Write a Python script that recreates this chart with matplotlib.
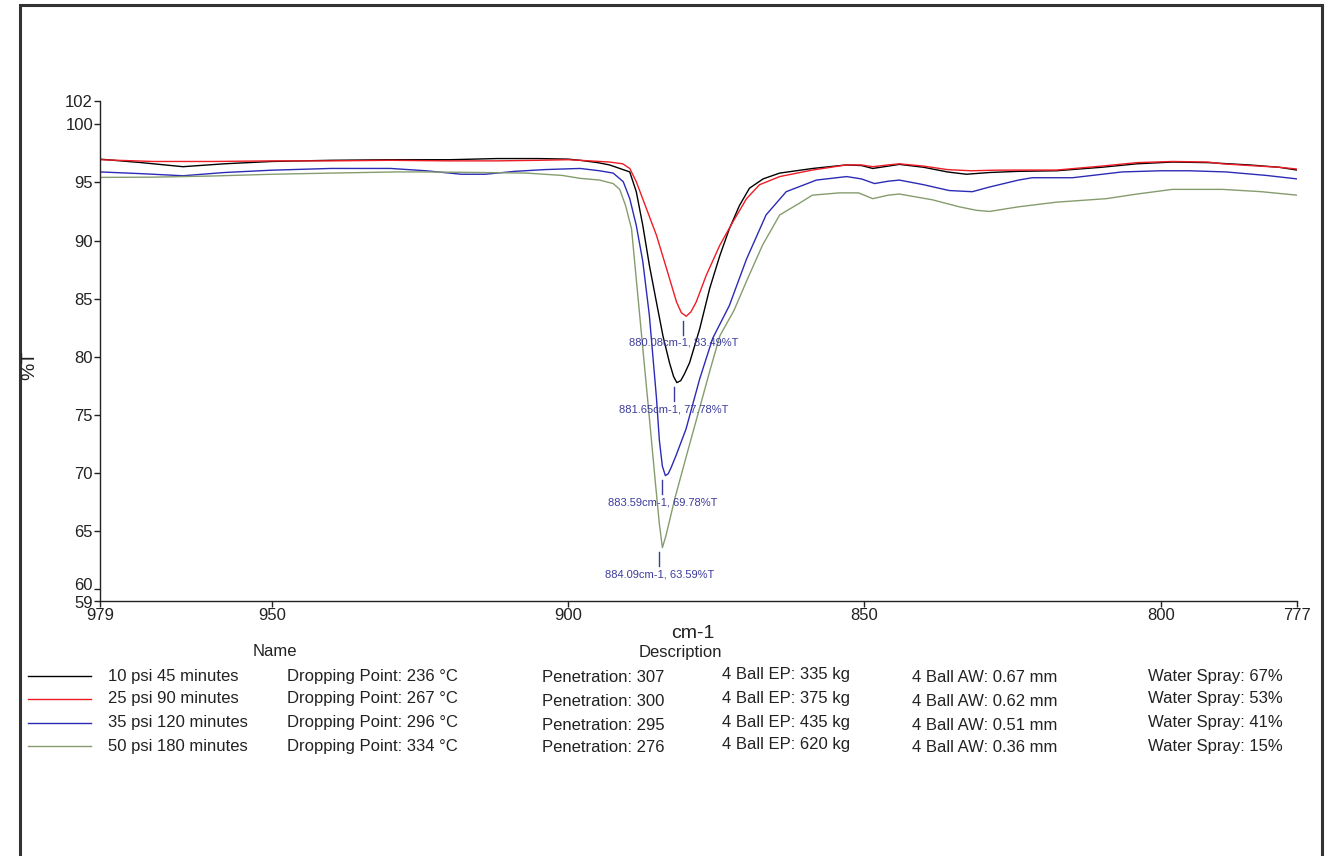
import matplotlib
matplotlib.use("Agg")
import matplotlib.pyplot as plt
from matplotlib.lines import Line2D
from matplotlib.patches import Rectangle
from matplotlib.transforms import ScaledTranslation

plt.rcParams['font.family'] = ['Liberation Sans', 'DejaVu Sans']

# ---------------- data ----------------
series_names = ["10 psi 45 minutes", "25 psi 90 minutes", "35 psi 120 minutes", "50 psi 180 minutes"]
series_colors = ["#000000", "#ee1c24", "#2b2bb5", "#869c6e"]

wn_black = [979, 972, 965, 958, 950, 940, 930, 920, 912, 905, 900, 898, 895, 893, 891.3, 889.6, 888.5, 887.4,
            886.3, 885.1, 884.0, 882.9, 882.2, 881.65, 881.0, 880.4, 879.5, 877.8, 876.1, 874.4, 872.8, 871.1,
            869.4, 867.1, 864.3, 858.7, 853.1, 850.5, 848.6, 846, 844.1, 840, 836, 832.8, 828.9, 824, 817.6,
            810, 804, 798, 792, 785, 780, 777]
t_black = [97.0, 96.7, 96.35, 96.6, 96.8, 96.9, 96.95, 96.95, 97.05, 97.05, 97.0, 96.9, 96.7, 96.5, 96.2, 95.9,
           94.2, 91.3, 87.9, 84.7, 81.8, 79.5, 78.3, 77.78, 77.95, 78.5, 79.5, 82.4, 85.9, 88.7, 91.0, 93.0,
           94.5, 95.3, 95.8, 96.2, 96.5, 96.45, 96.2, 96.4, 96.55, 96.3, 95.9, 95.7, 95.85, 95.95, 96.0,
           96.3, 96.6, 96.75, 96.7, 96.5, 96.3, 96.06]

wn_red = [979, 970, 960, 950, 940, 930, 920, 912, 905, 900, 898, 893, 890.8, 889.6, 888.5, 886.8, 885.1, 883.4,
          881.7, 880.9, 880.08, 879.3, 878.4, 876.7, 874.4, 872.2, 869.9, 867.7, 864.3, 858.8, 853.1, 850.5,
          848.6, 846, 844.1, 840, 836, 832, 828, 824, 817.6, 810, 804, 798, 792, 789.6, 785, 780, 777]
t_red = [96.95, 96.8, 96.8, 96.85, 96.85, 96.9, 96.85, 96.85, 96.9, 96.95, 96.9, 96.75, 96.6, 96.2, 95.06, 92.76,
         90.46, 87.6, 84.7, 83.8, 83.49, 83.85, 84.7, 87.0, 89.6, 91.6, 93.6, 94.8, 95.5, 96.06, 96.5, 96.5,
         96.35, 96.5, 96.6, 96.4, 96.1, 96.0, 96.05, 96.06, 96.06, 96.4, 96.7, 96.8, 96.75, 96.6, 96.45,
         96.3, 96.15]

wn_blue = [979, 972, 965, 958, 950, 940, 930, 924, 918, 914, 909, 904, 901, 898, 894.7, 892.4, 890.7, 889.6,
           888.5, 887.4, 886.3, 885.1, 884.6, 884.1, 883.59, 883.1, 882.6, 881.8, 880.1, 877.8, 875.6, 872.8,
           869.9, 866.6, 863.2, 858.1, 853, 850.5, 848.3, 846, 844.1, 840, 835.7, 831.8, 828.9, 824, 821.7,
           814.9, 806.5, 800, 795.2, 789, 782.2, 777]
t_blue = [95.9, 95.75, 95.57, 95.85, 96.05, 96.2, 96.2, 96.0, 95.7, 95.7, 95.95, 96.1, 96.15, 96.2, 96.0, 95.8,
          95.06, 93.6, 91.3, 88.2, 83.6, 76.5, 72.8, 70.6, 69.78, 69.95, 70.5, 71.5, 73.8, 78.1, 81.6, 84.4,
          88.4, 92.2, 94.2, 95.2, 95.5, 95.3, 94.9, 95.1, 95.2, 94.8, 94.3, 94.2, 94.6, 95.2, 95.4,
          95.4, 95.9, 96.0, 96.0, 95.9, 95.6, 95.3]

wn_green = [979, 970, 960, 950, 940, 929, 924, 915, 907, 901, 898, 894.7, 892.4, 891.3, 890.3, 889.3, 888.3,
            887.3, 886.3, 885.3, 884.6, 884.09, 883.5, 882, 880, 878, 876, 874.4, 872, 869.9, 867.2, 864.3,
            861, 858.8, 854.2, 851, 848.6, 846, 844.1, 838.5, 834, 831.1, 828.9, 824, 817.6, 809.2, 804, 798,
            789.6, 783, 777]
t_green = [95.43, 95.45, 95.55, 95.7, 95.8, 95.9, 95.9, 95.85, 95.8, 95.6, 95.35, 95.2, 94.9, 94.4, 93.0, 91.0,
           85.6, 80.2, 74.8, 69.3, 65.6, 63.59, 64.6, 67.8, 71.55, 75.25, 78.95, 81.8, 84.0, 86.5, 89.6, 92.2,
           93.2, 93.9, 94.1, 94.1, 93.6, 93.9, 94.0, 93.5, 92.9, 92.6, 92.5, 92.9, 93.3, 93.6, 94.0, 94.4,
           94.4, 94.2, 93.9]

peak_wn = [880.08, 881.65, 883.59, 884.09]
peak_t = [83.49, 77.78, 69.78, 63.59]
peak_labels = ["880.08cm-1, 83.49%T", "881.65cm-1, 77.78%T", "883.59cm-1, 69.78%T", "884.09cm-1, 63.59%T"]

y_ticks = [59, 60, 65, 70, 75, 80, 85, 90, 95, 100, 102]
x_ticks = [979, 950, 900, 850, 800, 777]

dropping = ["Dropping Point: 236 °C", "Dropping Point: 267 °C", "Dropping Point: 296 °C", "Dropping Point: 334 °C"]
penetration = ["Penetration: 307", "Penetration: 300", "Penetration: 295", "Penetration: 276"]
ball_ep = ["4 Ball EP: 335 kg", "4 Ball EP: 375 kg", "4 Ball EP: 435 kg", "4 Ball EP: 620 kg"]
ball_aw = ["4 Ball AW: 0.67 mm", "4 Ball AW: 0.62 mm", "4 Ball AW: 0.51 mm", "4 Ball AW: 0.36 mm"]
water = ["Water Spray: 67%", "Water Spray: 53%", "Water Spray: 41%", "Water Spray: 15%"]

# ---------------- figure ----------------
W, H = 1327, 856
fig = plt.figure(figsize=(W / 100, H / 100), dpi=100)
ax = fig.add_axes([100 / W, 1 - 601 / H, 1197 / W, 500 / H])

all_wn = [wn_black, wn_red, wn_blue, wn_green]
all_t = [t_black, t_red, t_blue, t_green]
for xs, ys, c in zip(all_wn, all_t, series_colors):
    ax.plot(xs, ys, color=c, lw=1.0, solid_joinstyle='round')

ann_color = "#3c3c9c"
for w, t, lab in zip(peak_wn, peak_t, peak_labels):
    ax.plot([w + 0.5, w + 0.5], [t - 0.4, t - 1.6], color=ann_color, lw=1.0)
    ax.text(w + 0.5, t - 2.3, lab, color=ann_color, fontsize=8, ha='center', va='center')

ax.set_xlim(979, 777)
ax.set_ylim(59, 102)
ax.set_xticks(x_ticks)
ax.set_yticks(y_ticks)
ax.tick_params(axis='both', labelsize=12, length=4, width=1, pad=1, colors='#222222')
for s in ['top', 'right']:
    ax.spines[s].set_visible(False)
for s in ['left', 'bottom']:
    ax.spines[s].set_linewidth(1.0)
    ax.spines[s].set_color('#222222')

# nudge the "60" label up a little so it does not collide with "59"
fig.canvas.draw()
for lbl, val in zip(ax.get_yticklabels(), y_ticks):
    if val == 60:
        lbl.set_transform(lbl.get_transform() + ScaledTranslation(0, 5 / 100, fig.dpi_scale_trans))
    if val == 59:
        lbl.set_transform(lbl.get_transform() + ScaledTranslation(0, -1 / 100, fig.dpi_scale_trans))

fig.text(30 / W, 1 - 365 / H, "%T", rotation=90, fontsize=14, ha='center', va='center', color='#222222')
fig.text(693 / W, 1 - 633 / H, "cm-1", fontsize=14, ha='center', va='center', color='#222222')

# ---------------- legend table ----------------
fig.text(275 / W, 1 - 652 / H, "Name", fontsize=12, ha='center', va='center', color='#222222')
fig.text(680 / W, 1 - 652 / H, "Description", fontsize=12, ha='center', va='center', color='#222222')
row_y = [676, 699, 723, 746]
for i, yy in enumerate(row_y):
    fy = 1 - yy / H
    fig.add_artist(Line2D([28 / W, 91 / W], [fy, fy], color=series_colors[i], lw=1.0))
    fig.text(108 / W, fy, series_names[i], fontsize=12, ha='left', va='center', color='#222222')
    fig.text(287 / W, fy, dropping[i], fontsize=12, ha='left', va='center', color='#222222')
    fig.text(542 / W, fy - 2 / H, penetration[i], fontsize=12, ha='left', va='center', color='#222222')
    fig.text(722 / W, fy + 1 / H, ball_ep[i], fontsize=12, ha='left', va='center', color='#222222')
    fig.text(912 / W, fy - 2 / H, ball_aw[i], fontsize=12, ha='left', va='center', color='#222222')
    fig.text(1148 / W, fy, water[i], fontsize=12, ha='left', va='center', color='#222222')

# outer frame
fig.add_artist(Rectangle((20 / W, -0.02), 1302 / W, 1.02 - 5 / H, transform=fig.transFigure,
                         fill=False, lw=2.2, edgecolor='#333333'))

fig.savefig("out.png", dpi=100)
